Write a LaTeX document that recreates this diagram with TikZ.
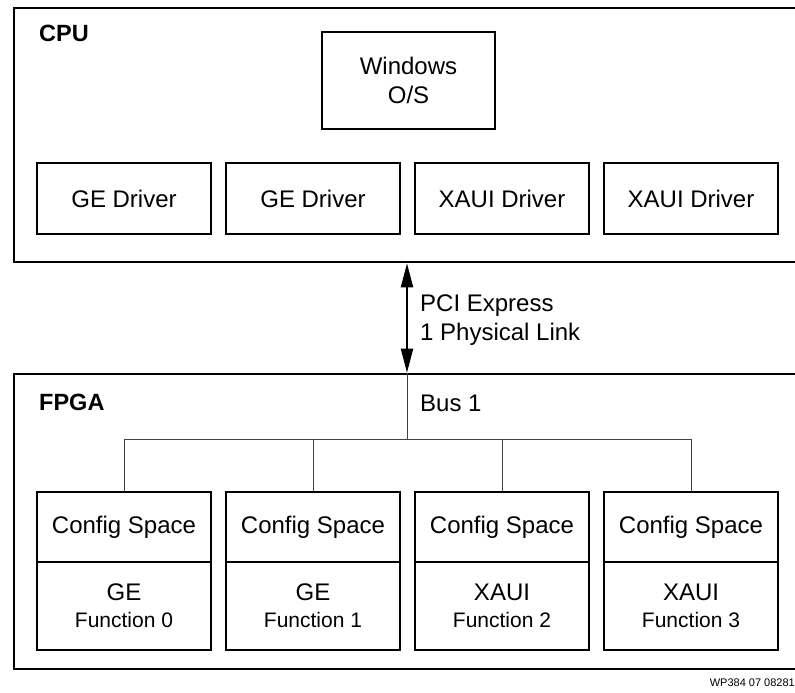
\documentclass[tikz,border=0pt]{standalone}
\usepackage{fontspec}
\setmainfont{Liberation Sans}
\usetikzlibrary{arrows.meta}
\begin{document}
\begin{tikzpicture}[x=1pt,y=-1pt,
  outerbox/.style={draw,line width=2.6pt,minimum width=806pt,inner sep=0pt},
  innerbox/.style={draw,line width=1.8pt,minimum width=174pt,inner sep=0pt,align=center,font=\fontsize{24}{29}\selectfont},
  title/.style={anchor=west,inner sep=0pt,font=\fontsize{23.5}{28}\selectfont\bfseries},
  lbl/.style={anchor=west,inner sep=0pt,align=left,font=\fontsize{24}{29}\selectfont},
  busline/.style={line width=1pt,draw=black!75},
  fnt/.style={font=\fontsize{21}{26}\selectfont}]
\useasboundingbox (0,0) rectangle (795,693);
\clip (0,0) rectangle (795,693);
% outer boxes
\node[outerbox,minimum height=254pt] (cpu) at (417,135) {};
\node[outerbox,minimum height=295pt] (fpga) at (417,521.5) {};
\node[title] (cpul) at (39,33) {CPU};
\node[title] (fpgal) at (39,402) {FPGA};
% CPU contents
\node[innerbox,minimum width=173pt,minimum height=97pt] (win) at (408.5,80.5) {Windows\\O/S};
\node[innerbox,minimum height=71pt] (d1) at (124,198.5) {GE Driver};
\node[innerbox,minimum height=71pt] (d2) at (313,198.5) {GE Driver};
\node[innerbox,minimum height=71pt] (d3) at (502,198.5) {XAUI Driver};
\node[innerbox,minimum height=71pt] (d4) at (691,198.5) {XAUI Driver};
% link
\coordinate (bx) at (407,0);
\coordinate (lt) at (cpu.south -| bx);
\coordinate (lb) at (fpga.north -| bx);
\draw[line width=2pt,{Triangle[length=24pt,width=12pt]}-{Triangle[length=24pt,width=12pt]}] (lt) -- (lb);
\node[lbl] (pci) at (420,320.5) {PCI Express\\1 Physical Link};
\node[lbl] (bus) at (420,403) {Bus 1};
% FPGA contents
\foreach \i/\x/\a/\b in {0/124/GE/0,1/313/GE/1,2/502/XAUI/2,3/691/XAUI/3}{
  \node[innerbox,minimum height=70pt] (c\i) at (\x,527) {Config Space};
  \node[innerbox,minimum height=88pt] (f\i) at (\x,606) {\a\\[-2pt]{\fontsize{21}{26}\selectfont Function \b}};
}
\coordinate (bj) at (407,439);
\draw[busline] (lb) -- (bj);
\draw[busline] (c0.north) |- (bj);
\draw[busline] (c3.north) |- (bj);
\draw[busline] (c1.north) -- (c1.north |- bj);
\draw[busline] (c2.north) -- (c2.north |- bj);
\node[anchor=east,inner sep=0pt,font=\fontsize{11}{13}\selectfont] (code) at (795,683) {WP384 07 08281};
\end{tikzpicture}
\end{document}
